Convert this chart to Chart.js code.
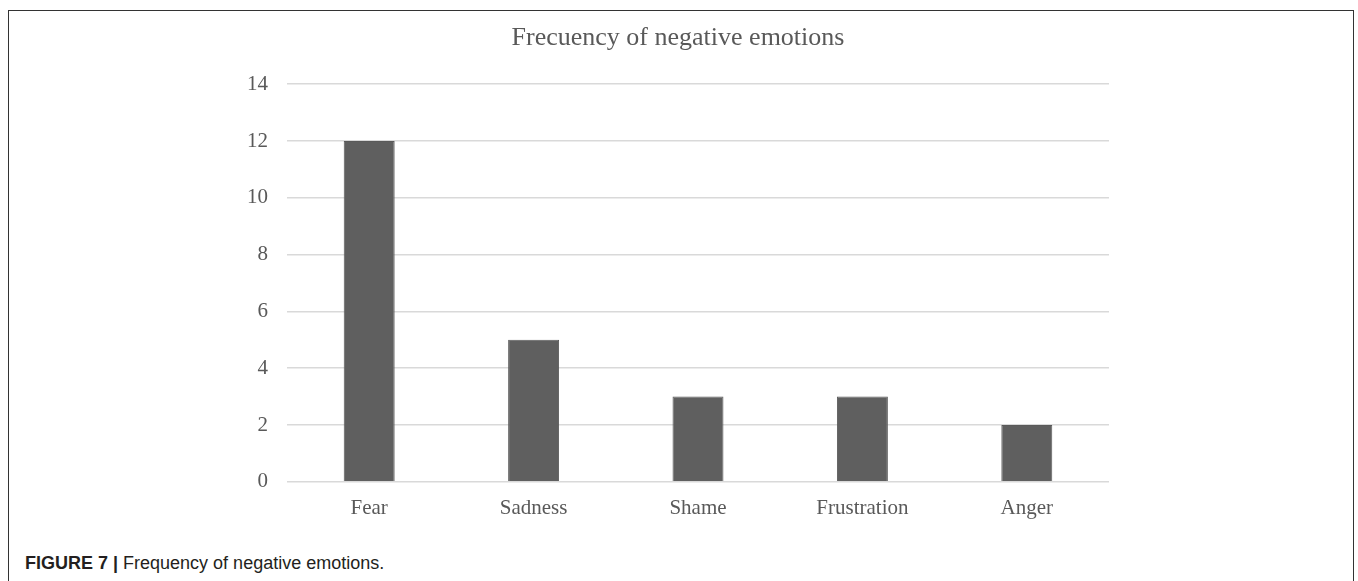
<!DOCTYPE html>
<html>
<head>
<meta charset="utf-8">
<script src="https://cdn.jsdelivr.net/npm/chart.js@4"></script>
<style>
    body { margin: 0; background: #fff; width: 1358px; height: 581px; overflow: hidden; position: relative; }
    #frame { position: absolute; left: 8px; top: 10px; width: 1346px; height: 600px; border: 1.5px solid #333; border-bottom: none; box-sizing: border-box; }
    #wrap { position: absolute; left: 0; top: 0; width: 1358px; height: 527px; }
    #caption { position: absolute; left: 25px; top: 553px; font-family: "Liberation Sans", Arial, sans-serif; font-size: 18px; color: #231f20; white-space: nowrap; }
    #caption b { font-weight: bold; }
</style>
</head>
<body>
<div id="frame"></div>
<div id="wrap"><canvas id="chartOne"></canvas></div>
<div id="caption"><b>FIGURE 7 |</b> Frequency of negative emotions.</div>
<script>
// datos de la grafica
let emociones = ['Fear', 'Sadness', 'Shame', 'Frustration', 'Anger'];
let frecuencia = [12, 5, 3, 3, 2];
let tituloGrafica = 'Frecuency of negative emotions';
let ejeYmax = 14;
let ejeYpaso = 2;

const gris = '#595959';

var ctxOne = document.getElementById('chartOne').getContext('2d');
var chartOne = new Chart(ctxOne, {
    type: 'bar',
    data: {
        labels: emociones,
        datasets: [{
            label: 'Frecuency',
            data: frecuencia,
            backgroundColor: '#5f5f5f',
            borderColor: '#5a5a5a',
            borderWidth: 1,
            barPercentage: 0.31,
            categoryPercentage: 1
        }]
    },
    options: {
        responsive: true,
        maintainAspectRatio: false,
        animation: false,
        layout: {
            padding: { left: 247, right: 249, top: 0, bottom: 0 }
        },
        plugins: {
            legend: { display: false },
            tooltip: { enabled: false },
            title: {
                display: true,
                text: tituloGrafica,
                color: gris,
                font: { family: '"Liberation Serif", "Times New Roman", serif', size: 26, weight: 'normal' },
                padding: { top: 23, bottom: 30 }
            }
        },
        scales: {
            x: {
                grid: { display: false },
                border: { display: false },
                ticks: {
                    color: gris,
                    padding: 6,
                    font: { family: '"Liberation Serif", serif', size: 21 }
                }
            },
            y: {
                min: 0,
                max: ejeYmax,
                afterFit: function (scale) { scale.width = 40; },
                grid: { color: '#d9d9d9', lineWidth: 1.5, drawTicks: false },
                border: { display: false },
                ticks: {
                    stepSize: ejeYpaso,
                    color: gris,
                    padding: 19,
                    font: { family: '"Liberation Serif", serif', size: 21 }
                }
            }
        }
    }
});
</script>
</body>
</html>
